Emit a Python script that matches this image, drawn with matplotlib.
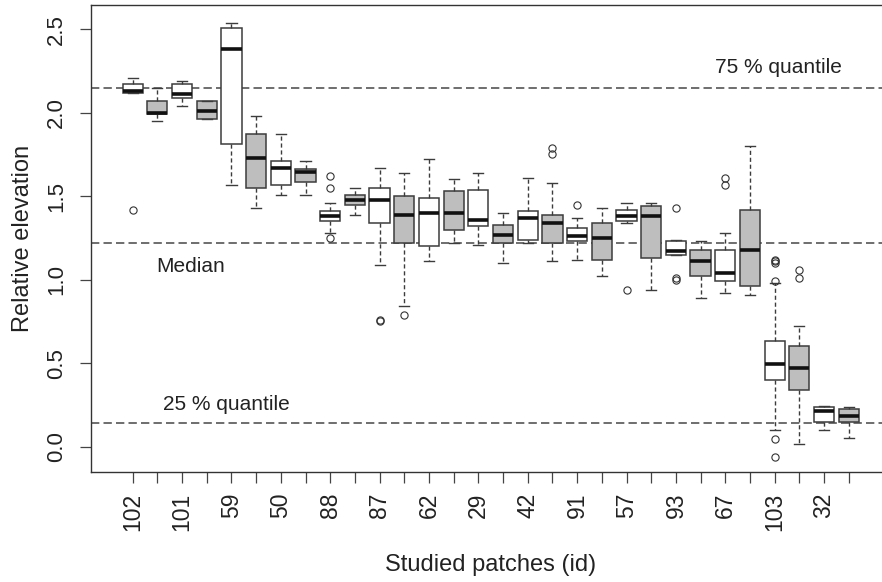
import matplotlib
matplotlib.use('Agg')
import matplotlib.pyplot as plt

plt.rcParams['font.family'] = ['Liberation Sans', 'DejaVu Sans']

# patch ids, one label for every second box
patch_ids = ['102', '101', '59', '50', '88', '87', '62', '29', '42', '91', '57', '93', '67', '103', '32']

# box statistics (30 boxes, left to right)
whis_lo = [2.12, 1.95, 2.04, 1.96, 1.57, 1.43, 1.51, 1.51, 1.28, 1.39,
           1.09, 0.84, 1.11, 1.22, 1.21, 1.10, 1.22, 1.11, 1.12, 1.02,
           1.34, 0.94, 1.15, 0.89, 0.92, 0.91, 0.10, 0.016, 0.10, 0.05]
q1 = [2.12, 1.99, 2.09, 1.96, 1.81, 1.55, 1.57, 1.585, 1.35, 1.45,
      1.34, 1.22, 1.20, 1.30, 1.32, 1.22, 1.24, 1.22, 1.23, 1.12,
      1.35, 1.13, 1.15, 1.02, 0.99, 0.96, 0.40, 0.34, 0.15, 0.145]
med = [2.13, 2.00, 2.11, 2.01, 2.38, 1.73, 1.67, 1.645, 1.38, 1.48,
       1.48, 1.39, 1.40, 1.40, 1.36, 1.27, 1.37, 1.34, 1.26, 1.25,
       1.38, 1.38, 1.17, 1.11, 1.04, 1.18, 0.495, 0.47, 0.215, 0.185]
q3 = [2.17, 2.07, 2.17, 2.07, 2.51, 1.87, 1.71, 1.66, 1.41, 1.51,
      1.55, 1.50, 1.49, 1.53, 1.54, 1.33, 1.41, 1.39, 1.31, 1.34,
      1.42, 1.44, 1.23, 1.18, 1.18, 1.42, 0.635, 0.60, 0.235, 0.225]
whis_hi = [2.21, 2.15, 2.19, 2.07, 2.54, 1.98, 1.87, 1.71, 1.46, 1.55,
           1.67, 1.64, 1.72, 1.60, 1.64, 1.40, 1.61, 1.58, 1.37, 1.43,
           1.46, 1.46, 1.24, 1.23, 1.28, 1.80, 0.98, 0.72, 0.245, 0.24]
outliers = [[1.42], [], [], [], [], [], [], [], [1.62, 1.55, 1.25], [],
            [0.76, 0.75], [0.79], [], [], [], [], [], [1.79, 1.75], [1.45], [],
            [0.94], [], [1.43, 1.01, 1.00], [], [1.61, 1.57], [],
            [1.12, 1.11, 1.10, 0.99, 0.045, -0.06], [1.06, 1.01], [], []]

# reference lines
q75_line = 2.15
median_line = 1.22
q25_line = 0.14

W, H = 882, 582
fig = plt.figure(figsize=(W / 100, H / 100), dpi=100)
ax = fig.add_axes([90.7 / W, (H - 471.7) / H, 800 / W, 466.7 / H])

stats = []
for i in range(len(med)):
    stats.append({'whislo': whis_lo[i], 'q1': q1[i], 'med': med[i], 'q3': q3[i],
                  'whishi': whis_hi[i], 'fliers': outliers[i]})

pos = list(range(1, len(stats) + 1))
res = ax.bxp(stats, positions=pos, widths=0.82, patch_artist=True, manage_ticks=False,
             boxprops=dict(edgecolor='#3c3c3c', linewidth=1.1),
             whiskerprops=dict(color='#3c3c3c', linewidth=1.0, linestyle=(0, (3, 2))),
             capprops=dict(color='#3c3c3c', linewidth=1.0),
             medianprops=dict(color='#111111', linewidth=2.6, solid_capstyle='butt'),
             flierprops=dict(marker='o', markersize=5.2, markerfacecolor='none',
                             markeredgecolor='#333333', markeredgewidth=0.8))
for i, box in enumerate(res['boxes']):
    box.set_facecolor('white' if i % 2 == 0 else '#bebebe')

for yv in [q75_line, median_line, q25_line]:
    ax.axhline(yv, color='#555555', linewidth=1.2, linestyle=(0, (5, 2.5)), zorder=0.5)

ax.text(24.59, 2.268, '75 % quantile', fontsize=15, color='#222222', va='center', ha='left')
ax.text(1.945, 1.076, 'Median', fontsize=15, color='#222222', va='center', ha='left')
ax.text(2.23, 0.25, '25 % quantile', fontsize=15, color='#222222', va='center', ha='left')

ax.set_xlim(-0.7, 31.7)
ax.set_ylim(-0.15, 2.645)

ax.set_xticks(pos)
ax.set_xticklabels([patch_ids[i // 2] if i % 2 == 0 else '' for i in range(len(pos))],
                   rotation=90, fontsize=16.5, color='#222222')
ax.set_yticks([0, 0.5, 1.0, 1.5, 2.0, 2.5])
ax.set_yticklabels(['0.0', '0.5', '1.0', '1.5', '2.0', '2.5'], rotation=90, va='center',
                   fontsize=16, color='#222222')
ax.tick_params(axis='both', direction='out', length=8, width=0.9, color='#444444')
ax.tick_params(axis='x', pad=7)
ax.tick_params(axis='y', pad=9)

for s in ax.spines.values():
    s.set_color('#333333')
    s.set_linewidth(1.0)

fig.text(23 / W, (H - 238) / H, 'Relative elevation', rotation=90, fontsize=17,
         ha='center', va='center', color='#222222')
fig.text(490.7 / W, (H - 565) / H, 'Studied patches (id)', fontsize=17,
         ha='center', va='center', color='#222222')

fig.savefig('out.png', dpi=100)
